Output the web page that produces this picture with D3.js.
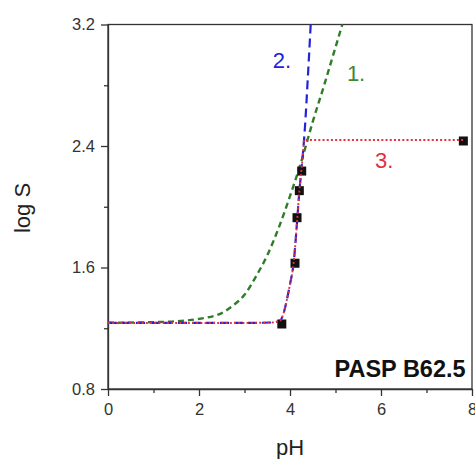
<!DOCTYPE html>
<html>
<head>
<meta charset="utf-8">
<script src="https://cdn.jsdelivr.net/npm/d3@7"></script>
<style>
  body { margin: 0; background: #fff; }
  text { font-family: "Liberation Sans", Arial, sans-serif; }
</style>
</head>
<body>
<div id="viz"></div>
<script>
// measured points
const pH = [3.82, 4.11, 4.154, 4.205, 4.257, 7.81];
const logS = [1.228, 1.628, 1.928, 2.106, 2.235, 2.433];

// curve 1 (green dashed)
const fit1pH = [0, 1.0, 1.5, 2.0, 2.5, 2.75, 3.0, 3.25, 3.5, 3.75, 4.0, 4.25, 4.5, 4.75, 5.0, 5.15];
const fit1S = [1.236, 1.24, 1.246, 1.262, 1.30, 1.35, 1.42, 1.54, 1.68, 1.86, 2.07, 2.30, 2.56, 2.80, 3.05, 3.2];

// curve 2 (blue dashed)
const fit2pH = [0, 3.0, 3.6, 3.78, 3.86, 3.93, 4.0, 4.08, 4.16, 4.205, 4.25, 4.29, 4.33, 4.39, 4.455];
const fit2S = [1.235, 1.235, 1.238, 1.25, 1.30, 1.386, 1.49, 1.63, 1.92, 2.10, 2.24, 2.37, 2.53, 2.84, 3.2];

// curve 3 (red dotted)
const fit3pH = [0, 3.0, 3.6, 3.78, 3.86, 3.93, 4.0, 4.08, 4.16, 4.205, 4.25, 4.29, 4.31, 4.45, 7.81];
const fit3S = [1.235, 1.235, 1.238, 1.25, 1.30, 1.386, 1.49, 1.63, 1.92, 2.10, 2.24, 2.37, 2.44, 2.44, 2.44];

const xTickVals = [0, 2, 4, 6, 8];
const xMinorVals = [1, 3, 5, 7];
const yTickVals = [0.8, 1.6, 2.4, 3.2];
const yMinorVals = [1.2, 2.0, 2.8];

const canvasWidth = 475;
const canvasHeight = 459;
const margin = { top: 24.5, right: 3, bottom: 70, left: 108 };
const plotWidth = canvasWidth - margin.left - margin.right;
const plotHeight = canvasHeight - margin.top - margin.bottom;

const xScale = d3.scaleLinear().domain([0, 8]).range([0, plotWidth]);
const yScale = d3.scaleLinear().domain([0.8, 3.2]).range([plotHeight, 0]);

const chart = d3.select('#viz')
                .append('svg')
                .attr('width', canvasWidth)
                .attr('height', canvasHeight);

const plot = chart.append('g')
                  .attr('transform', `translate(${margin.left}, ${margin.top})`);

// frame top + right
plot.append('rect')
    .attr('width', plotWidth)
    .attr('height', plotHeight)
    .attr('fill', 'none')
    .attr('stroke', '#333')
    .attr('stroke-width', 1.3);

const axisColor = '#333';

// minor ticks
plot.append('g')
    .attr('transform', `translate(0, ${plotHeight})`)
    .call(d3.axisBottom(xScale).tickValues(xMinorVals).tickSize(4).tickFormat(''))
    .call(g => g.select('.domain').remove());
plot.append('g')
    .call(d3.axisLeft(yScale).tickValues(yMinorVals).tickSize(4).tickFormat(''))
    .call(g => g.select('.domain').remove());

const xAxis = plot.append('g')
                  .attr('transform', `translate(0, ${plotHeight})`)
                  .call(d3.axisBottom(xScale).tickValues(xTickVals).tickSize(7).tickSizeOuter(0).tickPadding(7).tickFormat(d3.format('d')));

const yAxis = plot.append('g')
                  .call(d3.axisLeft(yScale).tickValues(yTickVals).tickSize(7).tickSizeOuter(0).tickPadding(6).tickFormat(d3.format('.1f')));

plot.selectAll('.tick line').attr('stroke', axisColor).attr('stroke-width', 1.3);
plot.selectAll('.domain').attr('stroke', axisColor).attr('stroke-width', 1.3);
plot.selectAll('.tick text')
    .attr('font-size', 16.5)
    .attr('fill', '#333')
    .style('font-family', '"Liberation Sans", Arial, sans-serif');

const makeLine = (xs) => d3.line()
                           .x((d, i) => xScale(xs[i]))
                           .y((d) => yScale(d))
                           .curve(d3.curveMonotoneX);

plot.append('path')
    .attr('d', makeLine(fit1pH)(fit1S))
    .attr('fill', 'none')
    .attr('stroke', '#2f7d2a')
    .attr('stroke-width', 2.4)
    .attr('stroke-dasharray', '6,4');

plot.append('path')
    .attr('d', makeLine(fit2pH)(fit2S))
    .attr('fill', 'none')
    .attr('stroke', '#2323d8')
    .attr('stroke-width', 2.2)
    .attr('stroke-dasharray', '9,5');

plot.selectAll('rect.pt')
    .data(pH)
    .enter().append('rect')
      .classed('pt', true)
      .attr('x', (d) => xScale(d) - 4.5)
      .attr('y', (d, i) => yScale(logS[i]) - 4.5)
      .attr('width', 9)
      .attr('height', 9)
      .attr('fill', '#111');

plot.append('path')
    .attr('d', makeLine(fit3pH)(fit3S))
    .attr('fill', 'none')
    .attr('stroke', '#e6303a')
    .attr('stroke-width', 1.9)
    .attr('stroke-dasharray', '2,2.2');

// curve labels
plot.append('text')
    .attr('x', xScale(3.62)).attr('y', yScale(2.915))
    .attr('font-size', 22).attr('fill', '#2323d8')
    .text('2.');
plot.append('text')
    .attr('x', xScale(5.25)).attr('y', yScale(2.825))
    .attr('font-size', 22).attr('fill', '#3d8a33')
    .text('1.');
plot.append('text')
    .attr('x', xScale(5.87)).attr('y', yScale(2.257))
    .attr('font-size', 22).attr('fill', '#e0303a')
    .text('3.');
plot.append('text')
    .attr('x', xScale(7.86)).attr('y', yScale(0.88))
    .attr('text-anchor', 'end')
    .attr('font-size', 23.5).attr('font-weight', 'bold').attr('fill', '#111')
    .text('PASP B62.5');

// axis titles
chart.append('text')
     .attr('x', margin.left + plotWidth / 2)
     .attr('y', 455)
     .attr('text-anchor', 'middle')
     .attr('font-size', 22).attr('fill', '#222')
     .text('pH');
chart.append('text')
     .attr('transform', 'translate(30, 208) rotate(-90)')
     .attr('text-anchor', 'middle')
     .attr('font-size', 22).attr('fill', '#222')
     .text('log S');
</script>
</body>
</html>
